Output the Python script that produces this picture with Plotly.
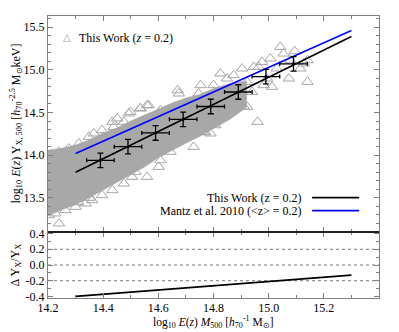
import plotly.graph_objects as go

# ---------------- data ----------------
# Dense part of the simulated cluster cloud (band edges)
band_upper_x = [14.20, 14.25, 14.30, 14.35, 14.40, 14.45, 14.50, 14.55, 14.60, 14.65, 14.70, 14.75, 14.80, 14.86, 14.92]
band_upper_y = [14.06, 14.08, 14.12, 14.18, 14.26, 14.32, 14.40, 14.47, 14.54, 14.61, 14.67, 14.71, 14.78, 14.84, 14.87]
band_lower_x = [14.92, 14.86, 14.80, 14.75, 14.70, 14.65, 14.60, 14.55, 14.50, 14.45, 14.40, 14.35, 14.30, 14.25, 14.20]
band_lower_y = [14.56, 14.42, 14.31, 14.22, 14.14, 14.05, 13.97, 13.86, 13.77, 13.68, 13.59, 13.50, 13.42, 13.36, 13.29]

# Individual triangles visible at the edges / sparse end of the cloud
tri_x = [15.042, 15.094, 15.079, 15.141, 15.006, 14.904, 14.946, 15.115, 15.073, 15.141,
         15.030, 14.994, 15.012, 14.922, 14.982, 14.940, 14.922, 14.873, 14.861, 14.825,
         14.777, 14.807, 14.765, 14.753, 14.800, 14.849, 14.873, 14.825, 14.964, 14.976,
         15.054, 15.127, 14.674, 14.746, 14.608, 14.559, 14.499, 14.451, 14.475, 14.728,
         14.644, 14.608, 14.601, 14.559, 14.517, 14.475, 14.445, 14.800, 14.789, 14.565,
         14.535, 14.493, 14.433, 14.438, 14.396, 14.366, 14.348, 14.312, 14.275, 14.239,
         14.209, 14.433, 14.396, 14.360, 14.336, 14.300, 14.263, 14.227, 14.203, 14.505,
         14.350, 14.240, 14.310, 14.670, 14.535, 14.960, 14.770, 14.910]
tri_y = [15.268, 15.218, 15.112, 15.112, 15.132, 15.015, 15.034, 15.015, 14.898, 14.858,
         15.015, 14.898, 14.800, 14.858, 14.820, 14.740, 14.566, 14.664, 14.527, 14.468,
         14.390, 14.350, 14.270, 14.820, 14.820, 14.898, 14.937, 14.957, 15.034, 15.092,
         15.190, 15.073, 14.722, 14.722, 14.527, 14.585, 14.507, 14.430, 14.390, 14.097,
         14.039, 13.940, 13.863, 13.746, 13.805, 13.668, 13.766, 14.371, 14.254, 14.585,
         14.547, 14.488, 14.390, 14.331, 14.293, 14.254, 14.214, 14.137, 14.078, 14.039,
         14.000, 13.590, 13.532, 13.473, 13.434, 13.395, 13.356, 13.317, 13.297, 13.746,
         13.500, 13.200, 13.450, 14.760, 14.550, 14.390, 14.270, 14.570]

# Binned points with error bars
bin_x = [14.39, 14.49, 14.59, 14.69, 14.79, 14.89, 14.99, 15.09]
bin_y = [13.94, 14.10, 14.26, 14.42, 14.57, 14.74, 14.92, 15.07]
bin_xerr = [0.05, 0.05, 0.05, 0.05, 0.05, 0.05, 0.05, 0.05]
bin_yerr = [0.085, 0.085, 0.085, 0.085, 0.085, 0.085, 0.085, 0.085]

# Fitted relations
fit_x = [14.3, 15.3]
this_work_y = [13.80, 15.39]
mantz_y = [14.02, 15.46]

# Residual panel
resid_x = [14.3, 15.3]
resid_y = [-0.40, -0.13]
ref_levels = [0.2, 0.0, -0.2]

x_ticks = [14.2, 14.4, 14.6, 14.8, 15.0, 15.2]
y_ticks = [13.5, 14.0, 14.5, 15.0, 15.5]
r_ticks = [0.4, 0.2, 0.0, -0.2, -0.4]
r_ticklabels = ["0.4", "0.2", "0.0", "-0.2", "-0.4"]

# ---------------- figure ----------------
FONT = "Liberation Serif"
AX = "#808080"
fig = go.Figure()

fig.add_trace(go.Scatter(
    x=band_upper_x + band_lower_x, y=band_upper_y + band_lower_y,
    mode="lines", fill="toself", fillcolor="#a8a8a8",
    line=dict(color="#a8a8a8", width=0.5), hoverinfo="skip", showlegend=False,
    xaxis="x", yaxis="y"))
fig.add_trace(go.Scatter(
    x=tri_x, y=tri_y, mode="markers",
    marker=dict(symbol="triangle-up-open", size=10, color="#a6a6a6", line=dict(width=1)),
    showlegend=False, xaxis="x", yaxis="y"))
fig.add_trace(go.Scatter(
    x=fit_x, y=mantz_y, mode="lines", line=dict(color="#0000ff", width=1.6),
    showlegend=False, xaxis="x", yaxis="y"))
fig.add_trace(go.Scatter(
    x=fit_x, y=this_work_y, mode="lines", line=dict(color="black", width=1.6),
    showlegend=False, xaxis="x", yaxis="y"))
fig.add_trace(go.Scatter(
    x=bin_x, y=bin_y, mode="markers",
    marker=dict(color="black", size=3),
    error_x=dict(type="data", array=bin_xerr, color="black", thickness=1.3, width=2),
    error_y=dict(type="data", array=bin_yerr, color="black", thickness=1.3, width=3),
    showlegend=False, xaxis="x", yaxis="y"))

for lv in ref_levels:
    fig.add_trace(go.Scatter(
        x=[x_ticks[0], 15.4], y=[lv, lv], mode="lines",
        line=dict(color="#777777", width=1, dash="dot"),
        showlegend=False, xaxis="x2", yaxis="y2"))
fig.add_trace(go.Scatter(
    x=resid_x, y=resid_y, mode="lines", line=dict(color="black", width=1.8),
    showlegend=False, xaxis="x2", yaxis="y2"))

tickfont = dict(family=FONT, size=12, color="black")
common = dict(showline=True, linecolor=AX, linewidth=1.2, mirror="allticks",
              ticks="inside", ticklen=5, tickcolor=AX, tickwidth=1,
              showgrid=False, zeroline=False, tickfont=tickfont)

fig.update_layout(
    width=399, height=332,
    margin=dict(l=48, r=20, t=16, b=34),
    paper_bgcolor="white", plot_bgcolor="white",
    font=dict(family=FONT, size=12, color="black"),
    xaxis=dict(domain=[0, 1], anchor="y", range=[14.2, 15.4], tickvals=x_ticks,
               showticklabels=False,
               minor=dict(dtick=0.1, ticks="inside", ticklen=3, tickcolor=AX), **common),
    xaxis2=dict(domain=[0, 1], anchor="y2", range=[14.2, 15.4], tickvals=x_ticks,
                ticktext=[f"{v:.1f}" for v in x_ticks], ticklabelstandoff=-2,
                minor=dict(dtick=0.1, ticks="inside", ticklen=3, tickcolor=AX), **common),
    yaxis=dict(domain=[0.234, 1], anchor="x", range=[13.1, 15.63], tickvals=y_ticks,
               ticktext=[f"{v:.1f}" for v in y_ticks],
               minor=dict(dtick=0.1, ticks="inside", ticklen=3, tickcolor=AX), **common),
    yaxis2=dict(domain=[0, 0.234], anchor="x2", range=[-0.42, 0.42], tickvals=r_ticks,
                ticktext=r_ticklabels,
                minor=dict(dtick=0.1, ticks="inside", ticklen=3, tickcolor=AX), **common),
)

# separator line between the panels
fig.add_shape(type="line", xref="paper", yref="y2 domain", x0=0, x1=1, y0=1, y1=1,
              line=dict(color="black", width=1.3))

# axis titles
fig.add_annotation(xref="paper", yref="paper", x=-0.098, y=0.617, textangle=-90,
                   showarrow=False, xanchor="center", yanchor="middle",
                   font=dict(family=FONT, size=12),
                   text="log<sub>10</sub> <i>E</i>(<i>z</i>) Y<sub>X, 500</sub> [<i>h</i><sub>70</sub><sup>-2.5</sup> M<sub>⊙</sub>keV]")
fig.add_annotation(xref="paper", yref="paper", x=-0.098, y=0.117, textangle=-90,
                   showarrow=False, xanchor="center", yanchor="middle",
                   font=dict(family=FONT, size=12),
                   text="Δ Y<sub>X</sub>/Y<sub>X</sub>")
fig.add_annotation(xref="paper", yref="paper", x=0.5, y=-0.122,
                   showarrow=False, xanchor="center", yanchor="bottom",
                   font=dict(family=FONT, size=11.5),
                   text="log<sub>10</sub> <i>E</i>(<i>z</i>) <i>M</i><sub>500</sub> [<i>h</i><sub>70</sub><sup>-1</sup> M<sub>⊙</sub>]")

# top-left legend
fig.add_annotation(xref="paper", yref="paper", x=0.057, y=0.922, showarrow=False,
                   xanchor="center", yanchor="middle",
                   font=dict(family="DejaVu Sans", size=10, color="#a0a0a0"), text="△")
fig.add_annotation(xref="paper", yref="paper", x=0.087, y=0.922, showarrow=False,
                   xanchor="left", yanchor="middle",
                   font=dict(family=FONT, size=12), text="This Work (<i>z</i> = 0.2)")

# bottom-right legend
fig.add_annotation(xref="paper", yref="paper", x=0.773, y=0.356, showarrow=False,
                   xanchor="right", yanchor="middle",
                   font=dict(family=FONT, size=12), text="This Work (z = 0.2)")
fig.add_annotation(xref="paper", yref="paper", x=0.773, y=0.310, showarrow=False,
                   xanchor="right", yanchor="middle",
                   font=dict(family=FONT, size=12), text="Mantz et al. 2010 (&lt;z&gt; = 0.2)")
fig.add_shape(type="line", xref="paper", yref="paper", x0=0.798, x1=0.940, y0=0.356, y1=0.356,
              line=dict(color="black", width=1.6))
fig.add_shape(type="line", xref="paper", yref="paper", x0=0.798, x1=0.940, y0=0.310, y1=0.310,
              line=dict(color="#0000ff", width=1.6))

fig.write_html("out.html", config={"displayModeBar": False},
               post_script="document.body.style.margin='0';")
